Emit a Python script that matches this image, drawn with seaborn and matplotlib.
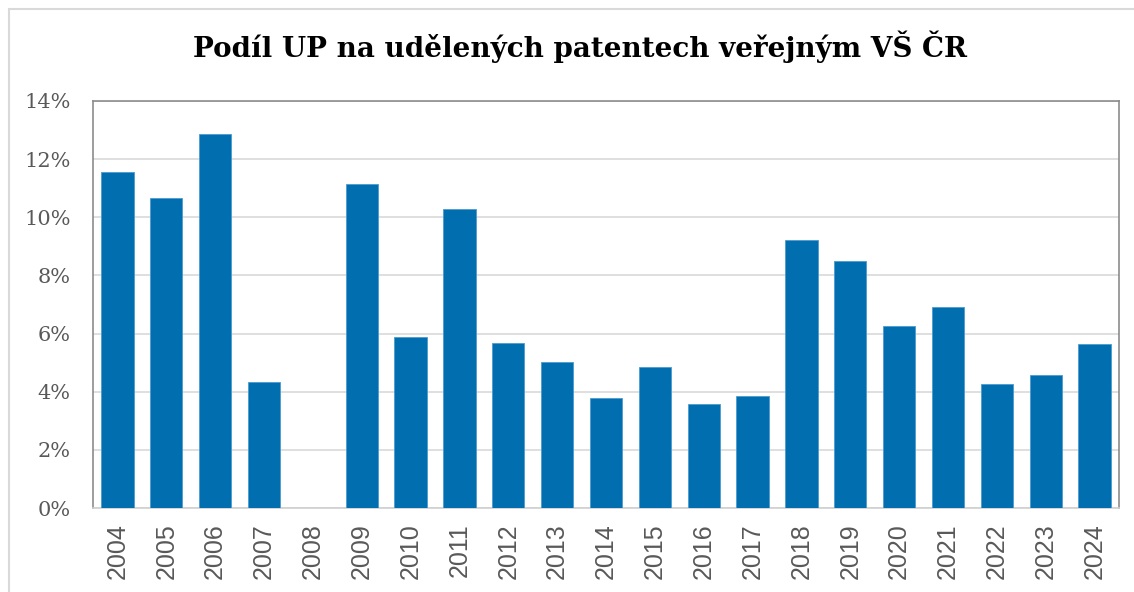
import matplotlib
matplotlib.use("Agg")
import matplotlib.pyplot as plt
import seaborn as sns
import pandas as pd
from matplotlib.lines import Line2D
from matplotlib.ticker import FuncFormatter

years = ["2004", "2005", "2006", "2007", "2008", "2009", "2010", "2011", "2012", "2013",
         "2014", "2015", "2016", "2017", "2018", "2019", "2020", "2021", "2022", "2023", "2024"]
shares = [11.55, 10.66, 12.85, 4.32, 0.0, 11.16, 5.87, 10.27, 5.67, 5.02,
          3.78, 4.84, 3.58, 3.85, 9.22, 8.49, 6.26, 6.93, 4.27, 4.57, 5.64]
title = "Podíl UP na udělených patentech veřejným VŠ ČR"

df = pd.DataFrame({"year": years, "share": shares})

sns.set_theme(style="white")
fig = plt.figure(figsize=(11.34, 5.92), dpi=100)
ax = fig.add_axes([93/1134, 1-508/592, (1119-93)/1134, (508-101)/592])

sns.barplot(data=df, x="year", y="share", color="#006EAF", width=0.66,
            saturation=1, ax=ax, edgecolor="#4A9BD0", linewidth=0.6, zorder=3)

ax.set_ylim(0, 14)
ax.set_xlim(-0.5, len(years) - 0.5)
ax.set_yticks(range(0, 15, 2))
ax.yaxis.set_major_formatter(FuncFormatter(lambda v, p: f"{int(v)}%"))
ax.grid(axis="y", color="#D9D9D9", linewidth=1.2, zorder=0)
ax.set_axisbelow(True)
ax.set_xlabel("")
ax.set_ylabel("")

for lab in ax.get_yticklabels():
    lab.set_fontfamily("DejaVu Serif")
    lab.set_fontsize(15)
    lab.set_color("#595959")
for lab in ax.get_xticklabels():
    lab.set_fontfamily("Liberation Sans")
    lab.set_fontsize(18)
    lab.set_color("#595959")
    lab.set_rotation(90)

ax.tick_params(axis="y", length=0, pad=16)
ax.tick_params(axis="x", length=0, pad=11)

for side in ["left", "top", "right"]:
    ax.spines[side].set_color("#8C8C8C")
    ax.spines[side].set_linewidth(1.2)
ax.spines["bottom"].set_color("#D0D0D0")
ax.spines["bottom"].set_linewidth(1.2)

fig.text(580/1134, 1-47/592, title, ha="center", va="center",
         fontfamily="DejaVu Serif", fontweight="bold", fontsize=20, color="black")

# outer chart border (left and top visible)
fig.add_artist(Line2D([9/1134, 9/1134], [0, 1-9/592], transform=fig.transFigure,
                      color="#D9D9D9", linewidth=1.5))
fig.add_artist(Line2D([9/1134, 1], [1-9/592, 1-9/592], transform=fig.transFigure,
                      color="#D9D9D9", linewidth=1.5))

fig.savefig("out.png", dpi=100)
